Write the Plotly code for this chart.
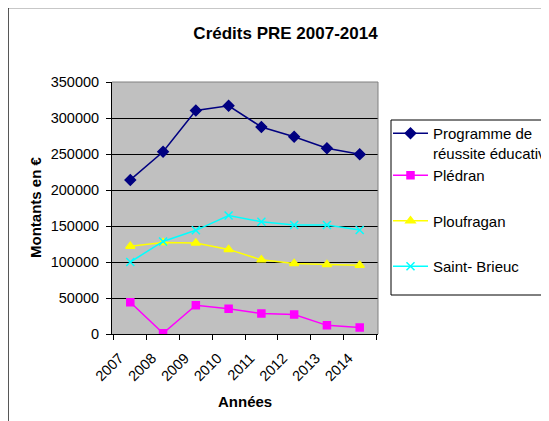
import plotly.graph_objects as go

years = ["2007", "2008", "2009", "2010", "2011", "2012", "2013", "2014"]
programme = [214000, 253000, 310500, 317000, 287500, 274000, 258000, 249500]
pledran = [44000, 1000, 40000, 35000, 28500, 27000, 12000, 9000]
ploufragan = [122000, 127000, 126500, 117500, 103000, 98000, 96500, 95500]
saint_brieuc = [100000, 128500, 144000, 164500, 156000, 151500, 151500, 144500]

series_names = ["Programme de<br>réussite éducative", "Plédran", "Ploufragan", "Saint- Brieuc"]
y_ticks = [0, 50000, 100000, 150000, 200000, 250000, 300000, 350000]
y_tick_text = ["0", "50000", "100000", "150000", "200000", "250000", "300000", "350000"]

FONT = "Liberation Sans, Arial, sans-serif"
OFF = 8  # the page body margin offsets the figure by 8px
W, H = 549 - OFF, 421 - OFF
# plot area in target-window pixels
L, R, T, B = 112, 378, 82, 334
pw, ph = R - L, B - T


def px_x(x):
    return (x - L) / pw


def px_y(y):
    return (B - y) / ph


fig = go.Figure()
styles = [
    dict(color="#000080", symbol="diamond", size=8, group="a"),
    dict(color="#FF00FF", symbol="square", size=7, group="a"),
    dict(color="#FFFF00", symbol="triangle-up", size=8, group="b"),
    dict(color="#00FFFF", symbol="x-thin-open", size=8, group="c"),
]
for name, vals, st in zip(series_names, [programme, pledran, ploufragan, saint_brieuc], styles):
    fig.add_trace(go.Scatter(
        x=years, y=vals, name=name, mode="lines+markers",
        legendgroup=st["group"],
        line=dict(color=st["color"], width=1.5),
        marker=dict(symbol=st["symbol"], size=st["size"], color=st["color"],
                    line=dict(color=st["color"], width=1.5)),
    ))

shapes = [
    # outer chart border
    dict(type="rect", xref="paper", yref="paper",
         x0=px_x(8), x1=px_x(600), y0=px_y(460), y1=px_y(7.5),
         line=dict(color="#202020", width=1.5), layer="above"),
    # legend box
    dict(type="rect", xref="paper", yref="paper",
         x0=px_x(391), x1=px_x(600), y0=px_y(295), y1=px_y(120),
         line=dict(color="#000000", width=1), layer="above"),
    # plot area top/right border
    dict(type="line", xref="paper", yref="paper", x0=0, x1=1, y0=1, y1=1,
         line=dict(color="#808080", width=1), layer="above"),
    dict(type="line", xref="paper", yref="paper", x0=1, x1=1, y0=0, y1=1,
         line=dict(color="#808080", width=1), layer="above"),
]

annotations = [
    dict(text="<b>Montants en €</b>", xref="paper", yref="paper",
         x=px_x(35), y=px_y(208), textangle=-90, showarrow=False,
         xanchor="center", yanchor="middle", font=dict(family=FONT, size=15, color="black")),
    dict(text="<b>Années</b>", xref="paper", yref="paper",
         x=px_x(245), y=px_y(401), showarrow=False,
         xanchor="center", yanchor="middle", font=dict(family=FONT, size=15, color="black")),
]

fig.update_layout(
    width=W, height=H,
    margin=dict(l=L - OFF, r=W - (R - OFF), t=T - OFF, b=H - (B - OFF), pad=0, autoexpand=False),
    paper_bgcolor="white", plot_bgcolor="#C0C0C0",
    font=dict(family=FONT, size=14.5, color="black"),
    title=dict(text="<b>Crédits PRE 2007-2014</b>", x=(285.5 - OFF) / W, y=1 - (33.5 - OFF) / H,
               xref="container", yref="container", xanchor="center", yanchor="middle",
               font=dict(family=FONT, size=17, color="black")),
    xaxis=dict(type="category", tickson="boundaries", ticks="outside", ticklen=5,
               tickcolor="black", showline=True, linecolor="black", linewidth=1,
               showgrid=False, tickangle=-45, tickfont=dict(size=14.5), automargin=False,
               ticklabelshift=-11, ticklabelstandoff=9),
    yaxis=dict(range=[0, 350000], tickvals=y_ticks, ticktext=y_tick_text,
               ticks="outside", ticklen=5,
               tickcolor="black", showline=True, linecolor="black", linewidth=1,
               showgrid=True, gridcolor="#000000", gridwidth=1, zeroline=False,
               tickfont=dict(size=14.5), automargin=False, ticklabelstandoff=4),
    legend=dict(x=(388 - OFF) / W, y=1 - (117 - OFF) / H, xref="container", yref="container",
                xanchor="left", yanchor="top",
                bgcolor="rgba(0,0,0,0)", borderwidth=0, valign="top",
                tracegroupgap=23, font=dict(family=FONT, size=15, color="black"),
                itemwidth=35),
    shapes=shapes,
    annotations=annotations,
)

fig.write_html("out.html")
